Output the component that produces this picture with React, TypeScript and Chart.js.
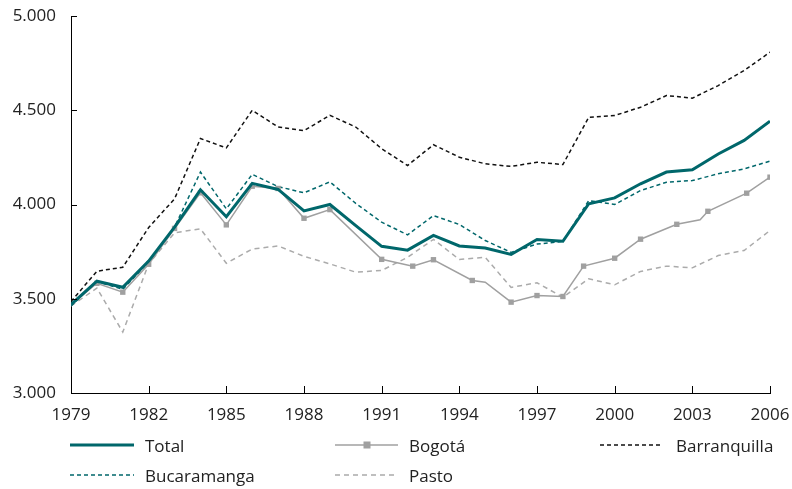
import React, { useEffect, useRef } from "react";
import { Chart, registerables } from "chart.js";

Chart.register(...registerables);

const years = [1979, 1980, 1981, 1982, 1983, 1984, 1985, 1986, 1987, 1988, 1989, 1990, 1991, 1992, 1993, 1994, 1995, 1996, 1997, 1998, 1999, 2000, 2001, 2002, 2003, 2004, 2005, 2006];
const total = [3469, 3593, 3561, 3700, 3880, 4078, 3935, 4112, 4080, 3966, 4000, 3888, 3778, 3758, 3836, 3780, 3769, 3735, 3814, 3805, 4004, 4035, 4110, 4172, 4184, 4268, 4340, 4442];
const barranquilla = [3485, 3646, 3667, 3878, 4030, 4350, 4300, 4500, 4411, 4392, 4473, 4411, 4296, 4207, 4317, 4251, 4216, 4202, 4224, 4212, 4463, 4472, 4516, 4578, 4564, 4631, 4711, 4808];
const bucaramanga = [3462, 3592, 3550, 3695, 3880, 4172, 3977, 4160, 4095, 4062, 4120, 4006, 3906, 3839, 3941, 3894, 3809, 3746, 3790, 3804, 4021, 4000, 4074, 4118, 4127, 4163, 4189, 4230];
const pasto = [3462, 3556, 3323, 3685, 3850, 3871, 3688, 3764, 3780, 3725, 3685, 3641, 3650, 3720, 3815, 3708, 3720, 3560, 3585, 3508, 3606, 3574, 3645, 3673, 3664, 3729, 3756, 3862];
const bogotaYears = [1979, 1980, 1981, 1982, 1983, 1984, 1985, 1986, 1987, 1988, 1989, 1991, 1992.2, 1993, 1994.5, 1995, 1996, 1997, 1998, 1998.8, 2000, 2001, 2002.4, 2003.3, 2003.6, 2005.1, 2006];
const bogota = [3469, 3582, 3535, 3683, 3873, 4062, 3892, 4097, 4085, 3927, 3973, 3709, 3673, 3707, 3597, 3588, 3482, 3517, 3512, 3673, 3715, 3816, 3895, 3919, 3964, 4060, 4145];
const bogotaMarked = [false, true, true, true, true, true, true, true, true, true, true, true, true, true, true, false, true, true, true, true, true, true, true, false, true, true, true];
const yTicks = [3000, 3500, 4000, 4500, 5000];
const xTicks = [1979, 1982, 1985, 1988, 1991, 1994, 1997, 2000, 2003, 2006];

const TEAL = "#00676b";
const GREY = "#a0a0a0";
const LIGHT = "#ababab";
const FONT = "'Open Sans', 'DejaVu Sans', sans-serif";

const fmt = (v: number) => {
  const s = String(Math.round(v));
  return s.length > 3 ? s.slice(0, s.length - 3) + "." + s.slice(s.length - 3) : s;
};

const inwardTicks = {
  id: "inwardTicks",
  afterDraw(chart: any) {
    const { ctx, chartArea, scales } = chart;
    ctx.save();
    ctx.strokeStyle = "#000";
    ctx.lineWidth = 1;
    ctx.beginPath();
    for (const t of yTicks) {
      const y = Math.round(scales.y.getPixelForValue(t)) + 0.5;
      ctx.moveTo(chartArea.left, y);
      ctx.lineTo(chartArea.left + 6, y);
    }
    for (const t of xTicks) {
      const x = Math.round(scales.x.getPixelForValue(t)) + 0.5;
      ctx.moveTo(x, chartArea.bottom);
      ctx.lineTo(x, chartArea.bottom - 7);
    }
    ctx.stroke();
    ctx.restore();
  },
};

const zeroPad = (s: any) => {
  s.paddingTop = 0;
  s.paddingBottom = 0;
  s.paddingLeft = 0;
  s.paddingRight = 0;
};

function ChartCanvas() {
  const ref = useRef<HTMLCanvasElement | null>(null);
  useEffect(() => {
    if (!ref.current) return;
    const pts = (xs: number[], ys: number[]) => xs.map((x, i) => ({ x, y: ys[i] }));
    const chart = new Chart(ref.current, {
      type: "line",
      data: {
        datasets: [
          { label: "Total", data: pts(years, total), borderColor: TEAL, borderWidth: 3, pointRadius: 0, tension: 0 },
          {
            label: "Bogotá",
            data: pts(bogotaYears, bogota),
            borderColor: GREY,
            borderWidth: 1.5,
            pointStyle: "rect",
            pointRadius: bogotaMarked.map((m) => (m ? 3.8 : 0)),
            pointBackgroundColor: GREY,
            pointBorderColor: GREY,
            pointBorderWidth: 0,
            tension: 0,
          },
          { label: "Barranquilla", data: pts(years, barranquilla), borderColor: "#111", borderWidth: 1.5, borderDash: [4, 3], pointRadius: 0, tension: 0 },
          { label: "Bucaramanga", data: pts(years, bucaramanga), borderColor: TEAL, borderWidth: 1.5, borderDash: [4, 3], pointRadius: 0, tension: 0 },
          { label: "Pasto", data: pts(years, pasto), borderColor: LIGHT, borderWidth: 1.5, borderDash: [5, 4], pointRadius: 0, tension: 0 },
        ],
      },
      options: {
        animation: false,
        responsive: false,
        devicePixelRatio: 1,
        layout: { padding: { top: 16, right: 22, left: 0, bottom: 0 } },
        plugins: { legend: { display: false }, tooltip: { enabled: false } },
        scales: {
          x: {
            type: "linear",
            min: 1979,
            max: 2006,
            afterFit: (s: any) => { s.height = 37; zeroPad(s); },
            afterBuildTicks: (s: any) => { s.ticks = xTicks.map((v) => ({ value: v })); },
            grid: { drawOnChartArea: false, drawTicks: false },
            border: { display: true, color: "#000", width: 1 },
            ticks: { color: "#222", font: { family: FONT, size: 17 }, padding: 12, callback: (v: any) => String(v), maxRotation: 0, autoSkip: false },
          },
          y: {
            min: 3000,
            max: 5000,
            afterFit: (s: any) => { s.width = 71; zeroPad(s); },
            afterBuildTicks: (s: any) => { s.ticks = yTicks.map((v) => ({ value: v })); },
            grid: { drawOnChartArea: false, drawTicks: false },
            border: { display: true, color: "#000", width: 1 },
            ticks: { color: "#222", font: { family: FONT, size: 17 }, padding: 15, callback: (v: any) => fmt(Number(v)) },
          },
        },
      },
      plugins: [inwardTicks],
    } as any);
    return () => chart.destroy();
  }, []);
  return <canvas ref={ref} width={792} height={430} style={{ position: "absolute", left: 0, top: 0, width: 792, height: 430 }} />;
}

function Legend() {
  const textStyle = { fontFamily: FONT, fontSize: 17, fill: "#222" } as any;
  return (
    <svg width={792} height={489} style={{ position: "absolute", left: 0, top: 0, pointerEvents: "none" }}>
      <line x1={70} y1={445} x2={134} y2={445} stroke={TEAL} strokeWidth={3} />
      <text x={145} y={445} dominantBaseline="central" style={textStyle}>Total</text>
      <line x1={335} y1={445} x2={398} y2={445} stroke={GREY} strokeWidth={1.5} />
      <rect x={363.5} y={441.5} width={7} height={7} fill={GREY} />
      <text x={409} y={445} dominantBaseline="central" style={textStyle}>Bogotá</text>
      <line x1={600} y1={445} x2={662} y2={445} stroke="#111" strokeWidth={1.5} strokeDasharray="4 3" />
      <text x={676} y={445} dominantBaseline="central" style={textStyle}>Barranquilla</text>
      <line x1={70} y1={475} x2={134} y2={475} stroke={TEAL} strokeWidth={1.5} strokeDasharray="4 3" />
      <text x={145} y={475} dominantBaseline="central" style={textStyle}>Bucaramanga</text>
      <line x1={335} y1={475} x2={398} y2={475} stroke={LIGHT} strokeWidth={1.5} strokeDasharray="5 4" />
      <text x={409} y={475} dominantBaseline="central" style={textStyle}>Pasto</text>
    </svg>
  );
}

export default function App() {
  return (
    <div style={{ position: "fixed", left: 0, top: 0, width: 792, height: 489, background: "#fff" }}>
      <ChartCanvas />
      <Legend />
    </div>
  );
}
